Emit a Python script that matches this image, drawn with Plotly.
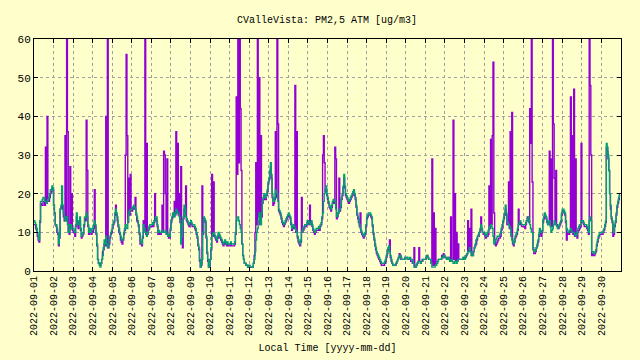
import pandas as pd
import plotly.graph_objects as go

# Hourly readings, 2022-09-01 00:00 .. 2022-09-30 23:00 (24 values per day)
start_date = "2022-09-01"
n_days = 30

pm25_a = [  # purple channel
    12,12,11,10.5,9,8, 7.5,12.5,17.5,17,17,18, 18,17,32,17.5,40,18, 18,19,20,20.5,21.5,21,            # 09-01
    17,15,12,11.5,10,9.5, 6.5,8.5,16,16.5,17,16, 14,13,35,13,65,36, 10,9.5,27,11,20,10.5,              # 09-02
    10,10,9,11.5,14,12.5, 11,12.5,13,10.5,8.5,9, 9.5,11.5,13.5,13,39,26, 11.5,9.5,10,10,9.5,10.5,      # 09-03
    10,11,21,11.5,9.5,6.5, 3,2,2,1.5,2,3, 5,5.5,7,6.5,40,6.5, 65,6,7,8.5,9.5,10,                        # 09-04
    11,12,12.5,14.5,17,14.5, 13,11.5,10,9.5,8,7.5, 7,8,9.5,10.5,30,56, 35,12.5,24,14.5,25,15.5,        # 09-05
    15.5,16,16.5,16,19,14.5, 13,12.5,11.5,9.5,7,7, 6.5,8.5,13,10.5,65,9.5, 33,9.5,10.5,11,11.5,11.5,  # 09-06
    11.5,12,11.5,12.5,20,13.5, 13,11.5,9.5,10,9.5,9.5, 10,17,10,31,30,20, 9.5,29,9,8.5,8.5,10.5,      # 09-07
    12.5,13.5,14.5,14,18,14.5, 36,15,33,14.5,20,12.5, 27,8.5,6,13.5,16,15.5, 22,13,12.5,12,11.5,12,   # 09-08
    12.5,12,11.5,11.5,11.5,11, 10.5,9.5,8.5,6.5,5.5,2.5, 1,1.5,22,9.5,13.5,13, 12.5,8.5,4.5,2.5,1,1,  # 09-09
    3,5.5,25,9,23,9, 8.5,8,7.5,8.5,9.5,9, 8.5,8,7.5,7,6.5,7, 7.5,7,6.5,7,6.5,6.5,                      # 09-10
    6.5,7,6.5,6.5,6.5,6.5, 7,9.5,45,25,60,28, 65,42,26,7,4,3, 2,2,1.5,1.5,1,1,                          # 09-11
    1,1,1,1,1,2, 4,10,28,12,65,14, 50,12,35,14,17.5,18.5, 19.5,18.5,18.5,19.5,20.5,22.5,                # 09-12
    23.5,25.5,27,24,19,17, 17.5,18.5,36,19,65,38, 15.5,15,14.5,13.5,12.5,12, 11.5,12,12.5,13,13.5,14, # 09-13
    14.5,14,13.5,12,10.5,11, 11.5,11,48,10,36,8.5, 7.5,7,6.5,7.5,19,10, 10.5,11,11.5,11.5,12,12.5,    # 09-14
    12.5,12,17,12,12.5,11.5, 10.5,10,9.5,10,10.5,10.5, 10.5,11,10.5,11.5,12,13.5, 30,35,28,20.5,21,19.5,  # 09-15
    18.5,17.5,16.5,16,15.5,16.5, 17.5,18,17.5,32,29,13.5, 14,15,24,15.5,16.5,18.5, 19.5,21.5,24,21.5,19.5,19,  # 09-16
    18.5,18,17.5,18,18.5,19, 19.5,20,20.5,19.5,18.5,16.5, 14.5,13.5,12.5,11.5,15,10, 9.5,9,8.5,9,9.5,11.5,  # 09-17
    13.5,14,14.5,14.5,14.5,14, 13.5,11.5,9.5,8,6.5,5.5, 4.5,4,3.5,3,2.5,2, 1.5,1.5,1.5,1.5,2,2.5,     # 09-18
    3.5,4.5,5.5,6,8,3.5, 2.5,2,1.5,1.5,1.5,1.5, 2,2.5,3,3.5,4.5,4, 3,3,3,3,3,3.5,                      # 09-19
    3.5,3.5,3,3,3,3, 2.5,2.5,2,2,6,1, 1,1.5,2,2.5,6,2.5, 2,2.5,2.5,3,3,3,                              # 09-20
    3,3.5,4,3.5,3,3, 3,2,29,1.5,15,1.5, 11,2,2,2.5,3,3, 3,3,4,3.5,4.5,4,                               # 09-21
    3.5,3.5,3,3,3.5,3, 2.5,14,2.5,3,39,3, 20,2.5,10,2.5,7,3, 3,3,3,3,3,3.5,                            # 09-22
    3,3.5,4,4.5,13,5, 11,5,16,4,4,5, 6,6.5,7,8,9,9, 10,10.5,14,11,10,9.5,                              # 09-23
    9.5,9,8.5,9,9,9.5, 22,11,34,12,35,54, 15,8,6.5,7,7.5,8, 8.5,8.5,9,10.5,11,12.5,                   # 09-24
    13.5,14.5,16,14.5,12,12, 23,11,36,9,41,7, 6.5,7.5,8.5,9,9.5,10.5, 16,12,12.5,12,11.5,11.5,        # 09-25
    11.5,11.5,11,12,13,14, 13.5,12.5,42,33,65,23, 5.5,4.5,4.5,5,6,6.5, 7.5,9,10.5,9.5,9,10,           # 09-26
    12.5,13.5,14.5,14,13.5,12.5, 12,12.5,31,12,29,11.5, 65,38,24,12,26,12, 11.5,11,11.5,12,12.5,14.5, # 09-27
    15.5,15.5,15,14.5,12.5,8, 10,9.5,9.5,10,45,10, 35,9.5,47,9,29,9, 8.5,10,10.5,11,11.5,33,          # 09-28
    12.5,12.5,12,11.5,11.5,11.5, 11,10.5,9.5,65,48,30, 4,4.5,4,4,4.5,5, 6.5,7.5,8.5,9,9.5,9.5,        # 09-29
    9.5,9.5,10,10.5,11.5,12.5, 32,31,29,26,20,16, 13.5,12.5,9,9.5,11.5,12.5, 14.5,16.5,17.5,18.5,19.5,19.5,  # 09-30
]

pm25_b = [  # teal channel
    13,12.5,12,11,10,9, 8,13,18,18,18.5,19, 19,18,18,17.5,18,18.5, 19,20,21,21,22,21.5,                # 09-01
    17,15,12,12,11,10, 7,9,16,17,22,17, 15,14,13,14,14,12, 10,10,12,12,11,11,                          # 09-02
    11,10.5,10,12,15,13, 12,13,14,11,9,9.5, 10,12,14,14,15,14, 12,10,11,10.5,10,11,                    # 09-03
    11,12,13,12,10,7, 3,2,1.5,1,2,3, 4,6,8,7,9,7, 6,6.5,8,9,10,10.5,                                   # 09-04
    12,12.5,13,15,16,15, 14,12,11,10,9,8, 8,8.5,10,11,12,11, 11,13,15,15.5,16,16,                      # 09-05
    16,16.5,17,16.5,16,15, 14,13,12,10,8,7.5, 7,9,12,11,10,10, 9,10,11,11.5,12,12,                     # 09-06
    12,12.5,12,13,13,14, 14,12,10,10.5,10,10, 10,10.5,10,10,10,10.5, 10,9.5,9,9.5,9,11,                # 09-07
    13,14,15,14.5,14,15, 16,15.5,15,15,14,13, 7,9,12,14,17,16, 14,13.5,13,12.5,12,12.5,                # 09-08
    13,12.5,12,12,12,11.5, 11,10,9,7,6,3, 1,2,3,10,14,13.5, 13,9,5,3,1,1.5,                            # 09-09
    3,6,9,9.5,10,9.5, 9,8.5,8,9,10,9.5, 9,8.5,8,7.5,7,7.5, 8,7.5,7,7.5,7,7,                            # 09-10
    7,7.5,7,7,7,7, 7.5,10,13,14,14,13, 12,11,10,7,4,3, 2,2,1.5,1.5,1,1.5,                              # 09-11
    1.5,1,1,1,1,2, 3,5,8,10,11,13, 15,13,12,15,18,19, 20,19,19,20,21,23,                               # 09-12
    24,26,28,25,20,18, 18,19,21,20,20,18, 16,15.5,15,14,13,12.5, 12,12.5,13,13.5,14,14.5,              # 09-13
    15,14.5,14,12.5,11,11.5, 12,11.5,11,10.5,10,9, 8,7.5,7,8,10,10.5, 11,11.5,12,12,12,13,             # 09-14
    13,12.5,12,12.5,13,12, 11,10.5,10,10.5,11,11, 11,11.5,11,12,12.5,14, 15,18,20,21,22,20,            # 09-15
    19,18,17,16.5,16,17, 18,18.5,18,18,16,14, 14.5,15,15.5,16,17,19, 20,22,25,22,20,19.5,              # 09-16
    19,18.5,18,18.5,19,19.5, 20,20.5,21,20,19,17, 15,14,13,12,11,10.5, 10,9.5,9,9.5,10,12,             # 09-17
    14,14.5,15,15,15,14.5, 14,12,10,8.5,7,6, 5,4.5,4,3.5,3,2.5, 2,2,2,2,2.5,3,                         # 09-18
    4,5,6,6.5,5,4, 3,2,1.5,1.5,1.5,1.5, 2,2.5,3,3.5,4,4, 3.5,3,3,3,3,3.5,                              # 09-19
    3.5,3.5,3,3,3.5,3.5, 3,3,2.5,2,1,1, 1,1.5,2,2.5,2.5,2.5, 2,2.5,3,3,3,3,                            # 09-20
    3,3.5,4,3.5,3,3, 3,2,1,1,1,1, 1.5,1.5,2,2.5,3,3, 3,3,3.5,3.5,4,4,                                  # 09-21
    3.5,3.5,3,3,3.5,3, 2.5,2.5,3,2.5,2,2, 2.5,2.5,2,2.5,3,3, 3,3,3,3,3.5,3.5,                          # 09-22
    3,3.5,4,4.5,5,5, 6,5,4,4,4,5, 6,7,8,8.5,9,9.5, 10,11,12,11,10,10,                                  # 09-23
    10,9.5,9,9.5,10,10.5, 11,11.5,12,11.5,11,9, 7,7.5,8,8.5,9,9, 9,9.5,10,11,12,13,                    # 09-24
    14,15,17,15,13,12.5, 12,11.5,11,9.5,8,7.5, 7,8,9,9.5,10,11, 12,12.5,13,12.5,12,12,                 # 09-25
    12,12,12,12.5,13,13.5, 14,13,12,11,10,10, 6,5,5,5.5,6,7, 8,9.5,11,10.5,10,10.5,                    # 09-26
    13,14,15,14.5,14,13, 12,12.5,13,11.5,10,10.5, 11,12,13,12.5,12,11.5, 11,11.5,12,12.5,13,15,        # 09-27
    16,16,15.5,15,13,11, 10.5,10,10,10.5,11,10.5, 10,10,10,9.5,9,9.5, 10,11,11.5,12,12,13,             # 09-28
    13,13,12.5,12,12,12, 11.5,11,10,13,14,13, 5,5,4.5,4.5,5,5.5, 7,8,9,9.5,10,10,                      # 09-29
    10,10,10.5,11,12,13, 33,32,30,26,20,17, 14,13,11,10,12,13, 15,17,18,19,20,20,                      # 09-30
]

title_text = "CValleVista: PM2,5 ATM [ug/m3]"
x_title = "Local Time [yyyy-mm-dd]"
y_ticks = [0, 10, 20, 30, 40, 50, 60]


def hourly_times(values):
    # evenly spaced sample times across the month
    step = pd.Timedelta(days=n_days) / len(values)
    return [pd.Timestamp(start_date) + i * step for i in range(len(values))]


day_ticks = pd.date_range(start_date, periods=n_days, freq="D")

FONT = "Liberation Mono"
BG = "#ffffcc"

fig = go.Figure()
fig.add_trace(go.Scatter(x=hourly_times(pm25_a), y=pm25_a, mode="lines", line_shape="hv",
                         line=dict(color="#9400d3", width=1.4), showlegend=False))
fig.add_trace(go.Scatter(x=hourly_times(pm25_b), y=pm25_b, mode="lines", line_shape="hv",
                         line=dict(color="#009e73", width=1.4), showlegend=False))

fig.update_layout(
    width=640, height=360,
    paper_bgcolor=BG, plot_bgcolor=BG,
    margin=dict(l=34, r=19, t=39, b=89, autoexpand=False),
    font=dict(family=FONT, size=10, color="black"),
    title=dict(text=title_text, x=0.511, xanchor="center", y=0.947, yanchor="middle",
               font=dict(family=FONT, size=10, color="black")),
    showlegend=False,
)
fig.update_xaxes(
    type="date", range=["2022-09-01 00:00", "2022-10-01 00:00"],
    tickvals=day_ticks, tickformat="%Y-%m-%d", tickangle=-90,
    showline=True, linecolor="black", linewidth=1, mirror="allticks",
    ticks="inside", ticklen=4, tickcolor="black",
    showgrid=True, gridcolor="#a0a0a0", griddash="3px,3px", gridwidth=1,
    zeroline=False, automargin=False,
    title=dict(text=x_title, standoff=8, font=dict(family=FONT, size=10)),
    tickfont=dict(family=FONT, size=10),
)
fig.update_yaxes(
    range=[0, 60], tickvals=y_ticks,
    showline=True, linecolor="black", linewidth=1, mirror="allticks",
    ticks="inside", ticklen=4, tickcolor="black",
    showgrid=True, gridcolor="#a0a0a0", griddash="3px,3px", gridwidth=1,
    zeroline=False, automargin=False,
    tickfont=dict(family=FONT, size=11),
)

fig.write_html("out.html",
               config={"displayModeBar": False},
               post_script="document.body.style.margin='0px';"
                           "document.body.style.background='#ffffcc';")
